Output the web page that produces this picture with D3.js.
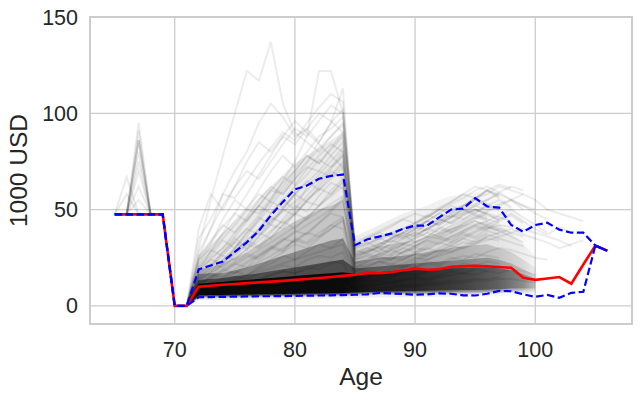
<!DOCTYPE html>
<html>
<head>
<meta charset="utf-8">
<script src="https://cdn.jsdelivr.net/npm/d3@7"></script>
<style>
  body { margin: 0; background: #fff; }
  text { font-family: Arial, "Liberation Sans", sans-serif; fill: #262626; }
</style>
</head>
<body>
<svg id="chart" width="642" height="397"></svg>
<script>
// ages for the summary lines
var ages = [65,66,67,68,69,70,71,72,73,74,75,76,77,78,79,80,81,82,83,84,85,
            86,87,88,89,90,91,92,93,94,95,96,97,98,99,100,101,102,103,104,105,106];
var median = [47.5,47.5,47.5,47.5,47.5,0,0,
              10,10.5,11,11.4,11.8,12.2,12.6,13,13.5,14,14.5,15,15.6,16.2,17,17,17.5,18.5,19.3,
              18.8,19,20.3,20.5,20.8,20.5,20.2,19.8,14.6,13.5,14.2,15,11.5,21.5,31.3,28.6];
var lower = [47.5,47.5,47.5,47.5,47.5,0,0,
             4.5,4.6,4.7,4.8,4.9,5,5,5.1,5.2,5.3,5.4,5.5,5.6,5.8,6,6.7,6.5,6.2,5.8,
             6,6.5,6.3,5.5,5.4,6.3,7.8,7.6,6,4.7,5.7,4.2,6.8,7.3,31.3,28.6];
var upper = [47.5,47.5,47.5,47.5,47.5,0,0,
             19,21,23,28,33,39,47,54,60.5,62.5,66,67.5,68.2,31.5,34.5,36,37.5,40,41.7,
             41.7,46,50,50.5,56,51.6,51,42,38.5,42,43.2,39.6,38,38,31.3,28.6];

// density of the simulated paths, read as nested bands
var bandAges = [71,72,73,74,75,76,77,78,79,80,81,82,83,84,85,86,87,88,89,90,91,92,93,94,95,96,97,98,99,100];
var b1Lo = [0,3,3,3,3.2,3.3,3.4,3.5,3.6,3.7,3.8,3.9,4,4,4.1,4.2,4.3,4.4,4.5,4.5,4.5,4.6,4.6,4.7,4.8,5,5,5.2,5.5,6];
var b1Hi = [0,26,32,38,44,50,56,62,68,74,78,82,86,90,36,39,42,45,48,50,52,55,57,58,59,60,58,52,45,38];
var b2Lo = [0,4,4.1,4.2,4.3,4.4,4.5,4.6,4.7,4.8,4.9,5,5.1,5.2,5.4,5.6,5.8,5.8,5.8,5.8,5.9,6,6,6,6,6.2,6.5,6.8,6.5,6.5];
var b2Hi = [0,19,20,22,25,28,32,36,40,44,47,50,52,55,27,29,31,32,33,34,36,38,40,42,43,44,42,38,32,26];
var b3Lo = [0,4.5,4.6,4.7,4.8,4.9,5,5.1,5.2,5.3,5.4,5.5,5.6,5.7,6,6.2,6.4,6.4,6.4,6.4,6.5,6.6,6.6,6.6,6.6,6.8,7,7.2,7,7];
var b3Hi = [0,16.5,17,17,18.5,20,22,24,26,28,30,32,34,35,23,24,25,25.5,26,27,28,29,30,31,31.5,32,30,28,24,20];
var b4Lo = [0,5,5.1,5.2,5.3,5.4,5.5,5.6,5.7,5.8,5.9,6,6.1,6.2,6.5,6.7,6.9,7,7,7,7.1,7.2,7.2,7.3,7.3,7.5,7.7,8,8,8];
var b4Hi = [0,13.5,14,14.5,15.5,16,17,18,19,20,21,22,23,24,19.5,20,20.5,21,21.5,22,22.5,23,23.5,24,24.5,25,24,22,19,16];
var coreLo = [0,5.5,5.6,5.7,5.8,5.9,6,6.1,6.2,6.3,6.4,6.5,6.6,6.7,7,7.2,7.4,7.5,7.6,7.7,7.8,8,8.1,8.2,8.3,8.4,8.6,9,9,9];
var coreHi = [0,11.5,12,12.5,13,13.5,14,14.5,15,15.5,16,16.5,17,17.5,16.5,17,17.5,18,18.3,18.6,19,19.2,19.5,19.7,20,20,19.5,18.5,16.5,14.5];

// how the density thins out with age
var fadeAges = [71,84,86,90,94,97,99,100];
var fadeMul = [1,1,0.85,0.75,0.6,0.45,0.3,0.15];

// some single paths, each starting at age 71
var simPaths = [
  [0,12,14,18,22,20,26,30,28,35,33,38,42,40,15,17,16,19,21,20,23,22,25,24,27,26,25],
  [0,18,25,30,38,45,52,60,58,66,72,70,78,85,20,22,25,24,28,30,29,33,35,38,36,40,42,41],
  [0,8,10,9,12,14,13,16,18,17,20,19,22,24,10,11,13,12,14,15,14,16,18,17,19,18],
  [0,25,40,58,70,80,95,105,98,88,92,85,95,102,30,33,35,38,36,40,44,42,46,48,50,47,45],
  [0,15,20,28,35,30,40,48,55,50,62,68,75,82,28,30,32,35,38,41,39,44,47,50,53,55,58,55,52,50],
  [0,30,55,78,100,122,117,137,105,90,85,80,88,95,30,35,38,36,40,43,47,45,50,52,55,60,58],
  [0,10,15,22,30,36,45,55,65,75,88,122,122,100,26,28,31,30,34,37,40,38,42,45,48,46],
  [0,14,18,24,30,38,44,52,60,68,75,85,95,113,22,24,27,29,32,31,35,38,41,44,47,45,43],
  [0,10,11,13,15,14,17,19,21,20,24,26,25,28,12,13,14,15,17,16,18,20,19,22,21,23,22],
  [0,20,28,35,42,50,48,56,64,70,78,74,82,90,25,28,30,27,32,35,38,36,40,42,45,48,46,44],
  [0,6,7,8,9,10,11,12,12,13,14,15,15,16,8,9,9,10,11,11,12,12,13,13,14,14,15],
  [0,16,22,20,26,32,38,35,42,48,45,52,58,64,18,20,22,25,24,27,30,28,32,35,33,36],
  [0,22,32,45,55,50,60,70,78,72,80,88,92,98,33,36,39,42,45,48,46,50,53,56,60,62,59,55,50],
  [0,12,16,15,19,23,27,31,29,34,38,36,42,46,20,21,23,22,25,27,26,29,31,30,33,35,34],
  [0,9,12,14,13,16,19,22,26,24,28,32,30,35,14,15,17,16,18,20,22,21,24,26,25,28,30,29,27,25,24],
  [0,28,40,52,62,75,85,80,88,96,90,84,78,72,28,31,34,37,35,39,42,45,43,47,50,48],
  [0,14,20,26,24,30,36,42,40,48,55,60,66,72,22,24,27,26,30,33,36,35,38,41,44,42,40,38,36],
  [0,7,9,11,13,12,14,16,18,17,19,21,23,22,9,10,11,12,13,14,13,15,16,17,16,18,17,19,18,16],
  [0,18,28,38,48,58,68,78,88,84,92,100,96,90,31,33,30,35,38,41,44,42,46,49,52,50,53,55,52,48,45],
  [0,11,15,19,23,27,25,30,34,38,42,46,50,56,17,19,21,24,26,28,31,34,36,39,42,44,47,50,46,42,38],
  [0,13,17,22,27,32,30,36,42,48,54,52,60,66,24,26,29,32,35,38,36,40,44,48,52,55,59,62,60],
  [0,35,45,58,56,65,74,82,90,86,95,103,110,106,29,27,31,34,37,33,36,40,38,42,44,41,39],
  [0,10,12,15,18,16,20,24,28,32,30,35,40,45,16,18,17,20,22,25,24,27,30,33,32,36,38,40,37,35,33,30,32,34],
  [0,8,10,12,14,16,18,20,22,24,26,28,30,32,13,15,16,18,20,22,24,26,28,30,32,34,36,38,40,38,36,34,31],
  [0,17,24,30,36,44,52,48,55,62,68,76,72,80,26,29,32,35,38,42,46,50,54,58,62,60,56],
  [0,5,6,7,8,9,10,11,11,12,13,14,14,15,7,8,8,9,10,10,11,11,12,12,13,13,14,14,13,12],
  [0,24,34,42,38,46,55,62,58,66,74,82,88,94,30,32,35,38,40,43,46,50,48,52,56,58,62,60,58],
  [0,40,58,50,62,70,66,75,84,92,88,96,104,100,27,30,28,33,36,40,44,48,52,50,47,45],
  [0,9,13,17,21,25,29,33,37,41,45,49,53,57,19,21,23,26,28,31,34,37,40,43,46,49,52,55,58,55,50,48,46,44],
  [0,15,19,24,29,34,39,44,49,54,60,66,72,78,23,25,27,30,33,37,40,44,48,52,56,60,63,61],
  [0,20,26,34,30,38,46,42,50,58,54,62,70,66,20,23,26,24,28,31,34,32,36,39,42,40,44,47,43],
  [0,16,21,27,33,29,36,43,50,47,55,61,58,65,24,27,25,29,32,35,38,41,39,43,46,44],
  [0,13,18,23,28,34,40,46,43,50,57,64,71,78,29,32,35,33,37,40,44,48,46,51,55,53,50],
  [0,19,24,22,28,34,31,38,45,52,49,57,64,61,21,23,26,29,27,30,33,36,34,38,41,39,37],
  [0,11,14,18,22,26,24,29,34,39,37,43,49,55,18,20,23,21,24,27,30,33,31,35,38,41,39,36,33],
  [0,26,33,41,48,44,52,60,67,63,71,78,84,80,25,28,31,34,32,36,40,43,47,45,49,52,50],
  [0,14,17,21,25,29,34,39,44,40,46,52,57,62,27,29,32,35,38,36,40,43,46,50,48,52,55,51],
  [0,21,29,26,33,40,47,54,51,58,65,60,68,75,24,26,24,27,30,28,32,35,33,37,35,38],
  [0,12,15,19,17,22,26,30,35,33,38,43,48,46,15,17,19,21,20,23,26,29,28,31,34,37,35,33,31],
  [0,17,22,28,34,40,37,44,51,58,64,70,67,74,32,35,38,41,45,43,47,51,54,58,56,60,57],
  [0,24,30,37,44,51,58,54,62,70,78,74,81,88,27,30,33,31,35,38,42,45,43,47,50,48,44],
  [0,9,11,14,17,20,23,26,30,34,32,36,40,44,16,18,20,22,21,24,27,30,33,36,39,42,45,48,44,40,37,41,38]
];

// the early spikes around age 66-68
var spikeAt67 = [86,86,86,95,91,80,75,70,62,55];
var spikeAt66 = [67,58];
var spikeBase = 47.5;

var xTicks = [70,80,90,100];
var yTicks = [0,50,100,150];

var svg = d3.select('#chart');
var pLeft = 90, pRight = 632, pTop = 17, pBottom = 324;

var x = d3.scaleLinear().domain([62.95, 108.05]).range([pLeft, pRight]);
var y = d3.scaleLinear().domain([-9.4, 150]).range([pBottom, pTop]);

// grid
svg.append('g').selectAll('line')
    .data(xTicks)
  .enter().append('line')
    .attr('x1', function(d) { return x(d) }).attr('x2', function(d) { return x(d) })
    .attr('y1', pTop).attr('y2', pBottom)
    .attr('stroke', '#cccccc').attr('stroke-width', 1.3);
svg.append('g').selectAll('line')
    .data(yTicks)
  .enter().append('line')
    .attr('y1', function(d) { return y(d) }).attr('y2', function(d) { return y(d) })
    .attr('x1', pLeft).attr('x2', pRight)
    .attr('stroke', '#cccccc').attr('stroke-width', 1.3);

var plot = svg.append('g');
var defs = svg.append('defs');

// one fading gradient per band
function fadeGradient(id, maxOpacity) {
    var g = defs.append('linearGradient')
        .attr('id', id)
        .attr('gradientUnits', 'userSpaceOnUse')
        .attr('x1', x(71)).attr('x2', x(100)).attr('y1', 0).attr('y2', 0);
    fadeAges.forEach(function(a, i) {
        g.append('stop')
            .attr('offset', (x(a) - x(71)) / (x(100) - x(71)))
            .attr('stop-color', '#000')
            .attr('stop-opacity', maxOpacity * fadeMul[i]);
    });
    return 'url(#' + id + ')';
}

function band(lo, hi) {
    return d3.area()
        .x(function(d, i) { return x(bandAges[i]) })
        .y0(function(d, i) { return y(lo[i]) })
        .y1(function(d, i) { return y(hi[i]) })(bandAges);
}
var bands = [[b1Lo, b1Hi, 0.08], [b2Lo, b2Hi, 0.16], [b3Lo, b3Hi, 0.3], [b4Lo, b4Hi, 0.45], [coreLo, coreHi, 0.85]];
bands.forEach(function(b, i) {
    plot.append('path')
        .attr('d', band(b[0], b[1]))
        .attr('fill', fadeGradient('fade' + i, b[2]));
});

// single paths
var pathLine = d3.line()
    .x(function(d, i) { return x(71 + i) })
    .y(function(d) { return y(d) });
plot.selectAll('path.sim')
    .data(simPaths)
  .enter().append('path')
    .attr('class', 'sim')
    .attr('d', pathLine)
    .attr('fill', 'none')
    .attr('stroke', '#000')
    .attr('stroke-opacity', 0.075)
    .attr('stroke-width', 2);

// spikes
var spikeLine = d3.line().x(function(d) { return x(d[0]) }).y(function(d) { return y(d[1]) });
plot.selectAll('path.sp67')
    .data(spikeAt67)
  .enter().append('path')
    .attr('class', 'sp67')
    .attr('d', function(p) { return spikeLine([[66, spikeBase], [67, p], [68, spikeBase]]) })
    .attr('fill', 'none').attr('stroke', '#000').attr('stroke-opacity', 0.08).attr('stroke-width', 2);
plot.selectAll('path.sp66')
    .data(spikeAt66)
  .enter().append('path')
    .attr('class', 'sp66')
    .attr('d', function(p) { return spikeLine([[65, spikeBase], [66, p], [67, spikeBase]]) })
    .attr('fill', 'none').attr('stroke', '#000').attr('stroke-opacity', 0.08).attr('stroke-width', 2);

// summary lines
var sumLine = d3.line()
    .x(function(d, i) { return x(ages[i]) })
    .y(function(d) { return y(d) });
plot.append('path').attr('d', sumLine(median))
    .attr('fill', 'none').attr('stroke', '#ff0000').attr('stroke-width', 2.6);
plot.append('path').attr('d', sumLine(upper))
    .attr('fill', 'none').attr('stroke', '#0000ff').attr('stroke-width', 2.2)
    .attr('stroke-dasharray', '7.5,3.5');
plot.append('path').attr('d', sumLine(lower))
    .attr('fill', 'none').attr('stroke', '#0000ff').attr('stroke-width', 2.2)
    .attr('stroke-dasharray', '7.5,3.5');

// frame
svg.append('rect')
    .attr('x', pLeft).attr('y', pTop)
    .attr('width', pRight - pLeft).attr('height', pBottom - pTop)
    .attr('fill', 'none').attr('stroke', '#cccccc').attr('stroke-width', 2);

// tick labels
svg.append('g').selectAll('text')
    .data(xTicks)
  .enter().append('text')
    .attr('x', function(d) { return x(d) })
    .attr('y', 357)
    .attr('text-anchor', 'middle')
    .style('font-size', '21.5px')
    .text(function(d) { return d });
svg.append('g').selectAll('text')
    .data(yTicks)
  .enter().append('text')
    .attr('x', 78)
    .attr('y', function(d) { return y(d) + 7.5 })
    .attr('text-anchor', 'end')
    .style('font-size', '21.5px')
    .text(function(d) { return d });

// axis titles
svg.append('text')
    .attr('x', (pLeft + pRight) / 2).attr('y', 385)
    .attr('text-anchor', 'middle')
    .style('font-size', '24.5px')
    .text('Age');
svg.append('text')
    .attr('transform', 'translate(27,' + ((pTop + pBottom) / 2) + ') rotate(-90)')
    .attr('text-anchor', 'middle')
    .style('font-size', '24.5px')
    .text('1000 USD');
</script>
</body>
</html>
